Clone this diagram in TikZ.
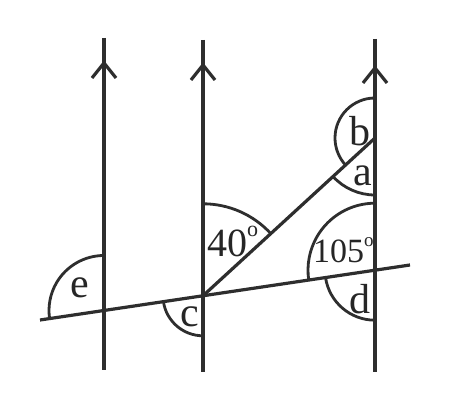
\documentclass[tikz,border=0pt]{standalone}
\usepackage{fontspec}
\setmainfont{Liberation Serif}
\usetikzlibrary{calc}
\begin{document}
\begin{tikzpicture}[x=1pt,y=1pt,
  ln/.style={line width=3.2pt,draw=black!82},
  arcln/.style={line width=2.8pt,draw=black!82},
  lbl/.style={font=\fontsize{42}{42}\selectfont,text=black!85,inner sep=0pt},
  deg/.style={text=black!85,inner sep=0pt,anchor=base west}]
\useasboundingbox (0,0) rectangle (450,414);
\fill[white] (0,0) rectangle (450,414);
% parallel lines
\coordinate (t1) at (104,376); \coordinate (b1) at (104,44);
\coordinate (t2) at (203,374); \coordinate (b2) at (203,42);
\coordinate (t3) at (375,375); \coordinate (b3) at (375,42);
\draw[ln] (t1) -- (b1);
\draw[ln] (t2) -- (b2);
\draw[ln] (t3) -- (b3);
% arrow chevrons
\coordinate (a1) at (104,351);
\coordinate (a2) at (203,349);
\coordinate (a3) at (375,346);
\foreach \p in {a1,a2,a3}{
  \draw[ln,line join=miter] ($(\p)+(-12,-15)$) -- (\p) -- ($(\p)+(12,-15)$);
}
% transversal
\coordinate (L) at (40,94); \coordinate (R) at (410,149);
\draw[ln] (L) -- (R);
\coordinate (P1) at (104,103.5);
\coordinate (P2) at (203,118.2);
\coordinate (P3) at (375,143.8);
\coordinate (Q) at (375,276);
\draw[ln] (P2) -- (Q);
% angle arcs
\draw[arcln] ([shift={(90:40)}]Q) arc[start angle=90,end angle=222.5,radius=40];
\draw[arcln] ([shift={(222.5:57)}]Q) arc[start angle=222.5,end angle=270,radius=57];
\draw[arcln] ([shift={(42.5:92)}]P2) arc[start angle=42.5,end angle=90,radius=92];
\draw[arcln] ([shift={(90:67)}]P3) arc[start angle=90,end angle=188.45,radius=67];
\draw[arcln] ([shift={(188.45:50)}]P3) arc[start angle=188.45,end angle=270,radius=50];
\draw[arcln] ([shift={(188.45:40)}]P2) arc[start angle=188.45,end angle=270,radius=40];
\draw[arcln] ([shift={(90:55)}]P1) arc[start angle=90,end angle=188.45,radius=55];
% labels
\node[lbl] (lb) at (360,283) {b};
\node[lbl] (la) at (363,238) {a};
\node[deg,font=\fontsize{40}{40}\selectfont] (l40) at (207,157)
  {40\raisebox{20pt}{\fontsize{22}{22}\selectfont o}};
\node[deg,font=\fontsize{34}{34}\selectfont] (l105) at (313,151)
  {105\raisebox{16pt}{\fontsize{19}{19}\selectfont o}};
\node[lbl] (ld) at (360,115) {d};
\node[lbl] (lc) at (190,97) {c};
\node[lbl] (le) at (80,126) {e};
\end{tikzpicture}
\end{document}
